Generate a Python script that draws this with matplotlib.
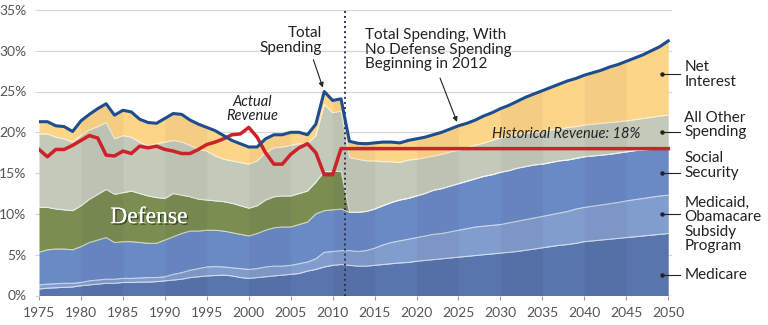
import numpy as np
import matplotlib.pyplot as plt
import matplotlib.patheffects as pe

# Federal spending and revenue as a share of GDP, 1975-2050
years = np.arange(1975, 2051)

medicare = [
    0.8, 0.9, 0.95, 1.0, 1.05, 1.2, 1.3, 1.4, 1.5, 1.5,
    1.6, 1.6, 1.65, 1.65, 1.7, 1.8, 1.9, 2.0, 2.2, 2.3,
    2.4, 2.45, 2.5, 2.4, 2.2, 2.1, 2.2, 2.3, 2.4, 2.5,
    2.6, 2.7, 3.0, 3.2, 3.5, 3.7, 3.8, 3.7, 3.6, 3.6,
    3.7, 3.8, 3.9, 4.0, 4.05, 4.2, 4.3, 4.4, 4.5, 4.6,
    4.7, 4.8, 4.9, 5.0, 5.1, 5.2, 5.3, 5.4, 5.55, 5.7,
    5.85, 6.0, 6.15, 6.25, 6.4, 6.6, 6.7, 6.8, 6.9, 7.0,
    7.1, 7.2, 7.3, 7.4, 7.5, 7.6,
]
medicaid = [
    0.5, 0.5, 0.5, 0.5, 0.45, 0.4, 0.5, 0.5, 0.5, 0.5,
    0.5, 0.5, 0.5, 0.55, 0.5, 0.5, 0.7, 0.8, 0.9, 1.0,
    1.1, 1.1, 1.0, 1.0, 1.1, 1.1, 1.1, 1.2, 1.2, 1.1,
    1.1, 1.2, 1.1, 1.3, 1.8, 1.7, 1.7, 1.8, 1.8, 1.9,
    2.1, 2.4, 2.6, 2.7, 2.85, 2.9, 3.0, 3.1, 3.1, 3.2,
    3.3, 3.4, 3.5, 3.5, 3.5, 3.5, 3.6, 3.7, 3.75, 3.8,
    3.85, 3.9, 3.95, 4.05, 4.2, 4.2, 4.25, 4.3, 4.35, 4.4,
    4.5, 4.55, 4.6, 4.65, 4.7, 4.7,
]
social_security = [
    4.0, 4.2, 4.25, 4.2, 4.1, 4.4, 4.7, 4.9, 5.1, 4.5,
    4.5, 4.5, 4.35, 4.2, 4.2, 4.5, 4.6, 4.8, 4.8, 4.6,
    4.5, 4.45, 4.4, 4.3, 4.2, 4.1, 4.3, 4.5, 4.7, 4.8,
    4.7, 4.8, 4.9, 5.5, 5.1, 5.1, 5.1, 4.7, 4.8, 4.8,
    4.8, 4.8, 4.9, 5.0, 5.0, 5.1, 5.2, 5.4, 5.5, 5.6,
    5.7, 5.8, 5.9, 6.1, 6.2, 6.4, 6.4, 6.5, 6.5, 6.5,
    6.4, 6.4, 6.4, 6.3, 6.2, 6.2, 6.15, 6.1, 6.05, 6.05,
    6.0, 6.0, 5.95, 5.85, 5.75, 5.7,
]
# defense ends in 2011; zero from 2012 on
defense_hist = [
    5.5, 5.2, 4.9, 4.8, 4.8, 5.0, 5.3, 5.6, 5.9, 5.9,
    6.0, 6.2, 6.0, 5.8, 5.6, 5.1, 5.3, 4.7, 4.2, 3.9,
    3.7, 3.6, 3.6, 3.6, 3.5, 3.4, 3.4, 3.7, 3.8, 3.8,
    3.8, 3.8, 3.8, 3.9, 4.8, 4.7, 4.6,
]
all_other = [
    9.0, 9.0, 8.8, 8.7, 8.4, 8.6, 8.5, 8.3, 8.2, 6.8,
    7.0, 6.6, 6.3, 6.1, 6.6, 6.9, 6.5, 6.5, 6.3, 6.1,
    6.0, 5.5, 5.2, 5.2, 5.3, 5.4, 5.5, 5.8, 6.0, 6.0,
    6.2, 6.1, 5.8, 5.7, 8.2, 7.2, 7.4, 6.7, 6.5, 6.2,
    5.9, 5.4, 5.0, 4.6, 4.7, 4.5, 4.4, 4.2, 4.2, 4.2,
    4.1, 4.1, 4.1, 4.1, 4.2, 4.2, 4.2, 4.1, 4.1, 4.0,
    4.0, 4.0, 3.9, 4.0, 3.9, 3.9, 3.9, 3.9, 3.9, 3.85,
    3.8, 3.8, 3.85, 3.95, 4.05, 4.1,
]
net_interest = [
    1.5, 1.5, 1.4, 1.5, 1.3, 1.8, 1.9, 2.2, 2.3, 2.9,
    3.1, 3.1, 2.8, 2.9, 2.5, 2.9, 3.3, 3.4, 3.1, 3.1,
    2.9, 3.1, 2.9, 2.5, 2.3, 2.1, 1.7, 1.7, 1.6, 1.5,
    1.6, 1.4, 1.1, 1.4, 1.6, 1.5, 1.5, 2.0, 1.95, 2.1,
    2.2, 2.4, 2.4, 2.4, 2.4, 2.5, 2.5, 2.6, 2.7, 2.8,
    3.0, 3.0, 3.1, 3.3, 3.4, 3.6, 3.8, 4.1, 4.4, 4.7,
    5.0, 5.2, 5.5, 5.7, 5.9, 6.1, 6.3, 6.5, 6.8, 7.0,
    7.3, 7.55, 7.8, 8.15, 8.5, 9.1,
]
# actual revenue 1975-2010, then the historical average
revenue_actual = [
    17.9, 17.0, 17.9, 17.9, 18.4, 19.0, 19.6, 19.3, 17.2, 17.1,
    17.7, 17.4, 18.3, 18.1, 18.3, 17.9, 17.7, 17.4, 17.4, 17.9,
    18.5, 18.8, 19.2, 19.7, 19.8, 20.6, 19.4, 17.5, 16.1, 16.1,
    17.3, 18.1, 18.6, 17.5, 14.8, 14.8,
]
hist_revenue_avg = 18.0
cutoff_year = 2011.5

layer_names = ["Medicare", "Medicaid", "Social Security", "Defense",
               "All Other", "Net Interest"]
layer_colors = ["#5975ad", "#819dce", "#6a8ac5", "#7b8e52", "#c4cab9", "#fdd588"]

defense = np.concatenate([defense_hist, np.zeros(len(years) - len(defense_hist))])
layers = np.array([medicare, medicaid, social_security, defense, all_other, net_interest])
tops = np.cumsum(layers, axis=0)
total = tops[-1]
revenue = np.concatenate([revenue_actual,
                          np.full(len(years) - len(revenue_actual), hist_revenue_avg)])

plt.rcParams["font.family"] = ["Lato", "DejaVu Sans"]

fig = plt.figure(figsize=(7.68, 3.25), dpi=100)
ax = fig.add_axes([39 / 768, 1 - 295.5 / 325, 633 / 768, 285.6 / 325])

bottom = np.zeros(len(years))
for top, color in zip(tops, layer_colors):
    ax.fill_between(years, bottom, top, color=color, lw=0, zorder=2)
    ax.plot(years, top, color="white", lw=0.7, alpha=0.7, zorder=2.5)
    bottom = top

# faint alternating 5-year bands inside the stacked area
for start in range(1980, 2050, 10):
    sel = (years >= start) & (years <= start + 5)
    ax.fill_between(years[sel], 0, total[sel], color="black", alpha=0.035,
                    lw=0, zorder=2.6)

ax.axvline(cutoff_year, color="#2b3452", ls=(0, (1, 1.6)), lw=1.4, zorder=3)

ax.plot(years, revenue, color="#cc2229", lw=2.5, solid_joinstyle="round", zorder=4)
ax.plot(years, total, color="#1d4d8f", lw=2.2, solid_joinstyle="round", zorder=5)

ax.set_xlim(1975, 2050.45)
ax.set_ylim(0, 35)
ax.set_xticks(np.arange(1975, 2051, 5))
ax.set_yticks(np.arange(0, 36, 5))
ax.set_yticklabels([f"{v}%" for v in range(0, 36, 5)])
ax.grid(axis="y", color="#d6d6d6", lw=0.9, zorder=0)
ax.set_axisbelow(True)
for side in ["top", "right", "left", "bottom"]:
    ax.spines[side].set_visible(False)
ax.tick_params(axis="x", length=3, color="#9a9a9a", labelsize=10, labelcolor="#555555", pad=5)
ax.tick_params(axis="y", length=3, color="#d6d6d6", labelsize=10, labelcolor="#555555", pad=6)
ax.axhline(0, color="#c8c8c8", lw=0.9, zorder=1)

# annotations
ax.text(2008.7, 31.25, "Total\nSpending", ha="right", va="center", fontsize=11,
        linespacing=1.05, color="#222222")
ax.annotate("", xy=(2009, total[years == 2009][0]), xytext=(2007.7, 28.9),
            arrowprops=dict(arrowstyle="-|>", lw=0.8, color="#222222",
                            shrinkA=0, shrinkB=3, mutation_scale=7), zorder=6)
ax.text(2013.85, 30.1, "Total Spending, With\nNo Defense Spending\nBeginning in 2012",
        ha="left", va="center", fontsize=11, linespacing=1.05, color="#222222")
ax.annotate("", xy=(2025, total[years == 2025][0]), xytext=(2022.8, 26.65),
            arrowprops=dict(arrowstyle="-|>", lw=0.8, color="#222222",
                            shrinkA=0, shrinkB=3, mutation_scale=7), zorder=6)
ax.text(2000.4, 22.85, "Actual\nRevenue", ha="center", va="center", fontsize=10.5,
        style="italic", linespacing=1.0, color="#222222", zorder=6)
ax.text(2029.0, 19.8, f"Historical Revenue: {hist_revenue_avg:.0f}%", ha="left",
        va="center", fontsize=10.5, style="italic", color="#222222", zorder=6)
ax.text(1988.1, 9.55, "Defense", ha="center", va="center", fontsize=17,
        family="Liberation Serif", color="white", zorder=6,
        path_effects=[pe.withSimplePatchShadow(offset=(1.2, -1.2), shadow_rgbFace="#2a3318",
                                               alpha=0.7), pe.Normal()])

# right-hand layer labels with leader lines
side_labels = [
    ("Net\nInterest", 27.1, 27.1),
    ("All Other\nSpending", 20.9, 20.0),
    ("Social\nSecurity", 15.9, 15.05),
    ("Medicaid,\nObamacare\nSubsidy\nProgram", 8.7, 10.0),
    ("Medicare", 2.5, 2.5),
]
for text, text_y, dot_y in side_labels:
    ax.plot([2049.3, 2051.4], [dot_y, dot_y], color="#222222", lw=0.8,
            clip_on=False, zorder=6)
    ax.plot([2049.3], [dot_y], "o", ms=2.2, color="#222222", clip_on=False, zorder=6)
    ax.text(2051.9, text_y, text, ha="left", va="center", fontsize=11,
            linespacing=1.05, color="#222222", clip_on=False)

fig.savefig("out.png", dpi=100)
